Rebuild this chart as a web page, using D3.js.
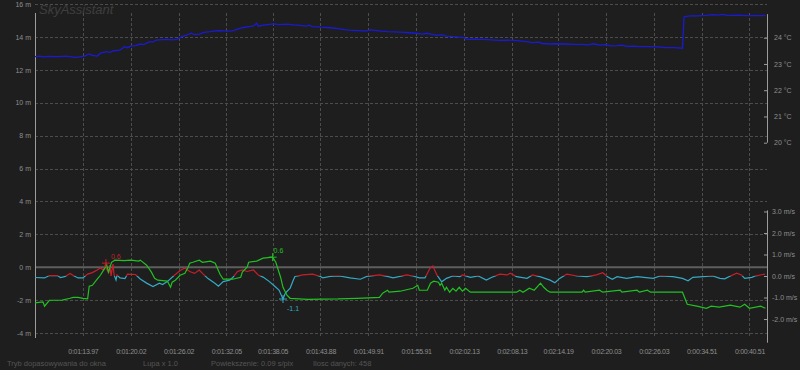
<!DOCTYPE html>
<html>
<head>
<meta charset="utf-8">
<script src="https://cdn.jsdelivr.net/npm/d3@7"></script>
<style>
  body { margin: 0; background: #1e1e1e; }
  svg { display: block; font-family: "Liberation Sans", Arial, sans-serif; }
  .lbl { fill: #8e8e8e; font-size: 7px; }
  .timeLbl { fill: #8e8e8e; font-size: 7px; letter-spacing: -0.3px; }
  .grid { stroke: #4c4c4c; stroke-dasharray: 3,2; stroke-width: 1; }
  .axisLine { stroke: #9c9c9c; stroke-width: 1; }
  .footer { fill: #555555; font-size: 7.5px; }
</style>
</head>
<body>
<div id="chart"></div>
<script>
var svgWidth = 800;
var svgHeight = 370;

// sample index where each time label sits, and the labels
var timeTicks = [30, 60, 90, 120, 149, 179, 209, 239, 269, 299, 328, 358, 388, 418, 448];
var timeLabels = ["0:01:13.97", "0:01:20.02", "0:01:26.02", "0:01:32.05", "0:01:38.05",
  "0:01:43.88", "0:01:49.91", "0:01:55.91", "0:02:02.13", "0:02:08.13", "0:02:14.19",
  "0:02:20.03", "0:02:26.03", "0:00:34.51", "0:00:40.51"];
var altTicks = [-4, -2, 0, 2, 4, 6, 8, 10, 12, 14, 16];
var tempTicks = [20, 21, 22, 23, 24];
var speedTicks = [-2, -1, 0, 1, 2, 3];
var footerTexts = ["Tryb dopasowywania do okna", "Lupa x 1.0", "Powiekszenie: 0.09 s/pix", "Ilosc danych: 458"];

// temperature, [sample, °C]
var temperature = [
  [0,23.28],[3,23.30],[5,23.27],[9,23.29],[14,23.28],[20,23.30],[25,23.25],[28,23.27],[31,23.30],
  [34,23.38],[36,23.33],[39,23.30],[41,23.41],[45,23.47],[47,23.44],[49,23.50],[53,23.53],[55,23.60],
  [56,23.66],[58,23.62],[60,23.68],[63,23.70],[66,23.76],[68,23.74],[72,23.85],[74,23.83],[76,23.91],
  [80,23.93],[83,23.94],[86,23.92],[89,23.94],[92,24.04],[95,24.10],[98,24.17],[100,24.12],[103,24.14],
  [106,24.20],[110,24.23],[113,24.26],[116,24.27],[120,24.25],[124,24.26],[127,24.33],[130,24.38],
  [134,24.42],[137,24.45],[139,24.55],[140,24.44],[143,24.48],[147,24.51],[150,24.53],[153,24.50],
  [158,24.52],[162,24.49],[166,24.47],[170,24.44],[172,24.48],[174,24.42],[179,24.40],[183,24.39],
  [187,24.37],[190,24.35],[194,24.31],[197,24.29],[202,24.27],[205,24.26],[208,24.26],[210,24.30],
  [212,24.29],[217,24.25],[221,24.23],[225,24.22],[229,24.21],[235,24.19],[239,24.17],[243,24.14],
  [246,24.17],[249,24.13],[252,24.09],[255,24.12],[258,24.06],[262,24.04],[266,24.02],[269,24.00],
  [271,23.94],[276,23.95],[281,23.94],[286,23.92],[291,23.90],[296,23.91],[302,23.89],[307,23.86],
  [312,23.81],[316,23.83],[318,23.78],[323,23.76],[327,23.77],[333,23.76],[338,23.75],[343,23.75],
  [347,23.73],[350,23.77],[354,23.72],[358,23.74],[361,23.69],[365,23.70],[368,23.72],[371,23.67],
  [375,23.68],[380,23.66],[385,23.66],[390,23.65],[396,23.62],[401,23.62],[406,23.60],[407,24.80],
  [411,24.83],[416,24.83],[421,24.85],[425,24.88],[428,24.86],[431,24.89],[434,24.85],[437,24.85],
  [441,24.86],[446,24.84],[451,24.84],[455,24.84],[458,24.85]
];

// relative altitude, [sample, m]
var climb = [
  [0,-2.17],[5,-2.11],[6,-2.37],[9,-2.01],[17,-2.00],[22,-1.89],[24,-1.83],[27,-1.83],[30,-1.90],
  [33,-1.93],[34,-1.16],[36,-1.10],[39,-0.73],[41,-0.49],[43,-0.18],[45,0.12],[46,-0.30],[48,0.30],
  [50,0.43],[56,0.40],[60,0.43],[65,0.37],[66,0.43],[70,0.12],[73,-0.30],[75,-0.67],[77,-0.79],
  [83,-0.85],[85,-1.22],[86,-0.91],[88,-0.79],[91,-0.49],[94,-0.37],[96,0.00],[97,0.24],[99,0.30],
  [103,0.43],[105,0.30],[110,0.37],[113,0.24],[116,-0.43],[118,-0.73],[124,-0.73],[129,-0.61],
  [130,-0.30],[133,0.00],[134,0.30],[139,0.37],[143,0.55],[149,0.61],[151,0.30],[154,-0.61],
  [155.5,-1.22],[158,-1.70],[160,-1.89],[171,-1.95],[190,-1.93],[202,-1.89],[216,-1.83],[218,-1.58],
  [221,-1.40],[222,-1.52],[229,-1.46],[237,-1.28],[240,-1.10],[241,-1.40],[246,-1.40],[248,-0.97],
  [250,-0.85],[253,-0.91],[254,-1.10],[255,-0.97],[257,-1.40],[258,-1.22],[260,-1.52],[262,-1.28],
  [264,-1.46],[266,-1.22],[268,-1.46],[270,-1.28],[273,-1.52],[277,-1.52],[302,-1.52],[304,-1.40],
  [306,-1.52],[310,-1.28],[313,-1.40],[317,-0.97],[319,-1.22],[321,-1.40],[323,-1.52],[343,-1.52],
  [344,-1.40],[345,-1.52],[354,-1.40],[356,-1.52],[367,-1.40],[368,-1.52],[377.5,-1.40],[379,-1.52],
  [384,-1.40],[386,-1.52],[406,-1.52],[409,-2.25],[415,-2.37],[421,-2.50],[424,-2.37],[429,-2.43],
  [436,-2.31],[442,-2.43],[445,-2.25],[448,-2.50],[455,-2.37],[458,-2.50]
];

// vertical wind, [sample, m/s]
var wind = [
  [0,-0.07],[6,-0.09],[9,0.02],[14,0.02],[16,-0.07],[19,-0.02],[22,0.12],[24,0.02],[27,-0.09],
  [30,-0.09],[33,0.09],[36,0.16],[39,0.28],[41,0.37],[43,0.28],[44.5,0.60],[45.1,0.28],[46.4,0.19],
  [47,0.51],[47.7,0.00],[48.9,0.55],[49.6,0.05],[50.8,-0.19],[51.4,0.05],[53.3,-0.09],[56.4,-0.12],
  [58,0.09],[63,0.07],[66,-0.14],[70,-0.33],[74,-0.49],[78,-0.33],[80,-0.40],[83,-0.26],[86.5,-0.02],
  [91,0.26],[94,0.37],[97,0.21],[100,0.12],[103,0.28],[105,0.12],[108.5,-0.12],[113,-0.35],
  [115,-0.47],[118,-0.26],[122,-0.19],[124,-0.07],[127,0.21],[130,0.28],[133,0.21],[137,0.28],
  [140,0.05],[143,-0.05],[147,-0.26],[150.5,-0.49],[153,-0.65],[155.5,-1.07],[157,-0.79],[160,-0.56],
  [162,-0.19],[163,-0.02],[168,0.05],[174,0.09],[179,-0.02],[180.5,-0.09],[185,-0.02],[191,0.00],
  [197.5,-0.09],[204,-0.15],[208,-0.02],[216,0.05],[221,-0.02],[224.5,-0.09],[233,0.05],[237,0.00],
  [241,-0.09],[244.5,-0.09],[247.7,0.36],[249.5,0.47],[252,0.05],[255,-0.27],[258,-0.11],[262,0.00],
  [266.5,-0.03],[268,0.05],[273,-0.06],[278,0.00],[283,-0.19],[286.5,-0.06],[291.5,0.09],[296,0.05],
  [298,0.13],[302,-0.03],[308.5,-0.11],[312,0.05],[316.5,-0.03],[323,-0.19],[326,-0.31],[329,-0.11],
  [333.5,0.09],[340,0.00],[346,-0.03],[352,0.05],[356,0.15],[359,-0.03],[362,-0.15],[365,-0.03],
  [371,-0.11],[377.5,-0.03],[387.5,-0.11],[392,0.00],[400,-0.03],[406,-0.11],[409.5,-0.22],
  [412.5,-0.06],[419,-0.03],[425,0.00],[429.5,-0.11],[432.5,-0.13],[436,0.00],[440,0.13],[443,0.05],
  [445,-0.11],[449.5,-0.06],[451.5,0.00],[457.7,0.09]
];

var svg = d3.select("#chart")
  .append("svg")
  .attr("width", svgWidth)
  .attr("height", svgHeight);

svg.append("rect").attr("width", svgWidth).attr("height", svgHeight).attr("fill", "#1e1e1e");

// scales
var xScale = d3.scaleLinear().domain([0, 459]).range([35, 767]);
var yAlt = d3.scaleLinear().domain([-4, 16]).range([333, 4]);
var yTemp = d3.scaleLinear().domain([20, 24.9]).range([142.7, 14.1]);
var ySpeed = d3.scaleLinear().domain([-3.1, 3.05]).range([342.7, 210.4]);

var crisp = v => Math.round(v) + 0.5;

// title
svg.append("text")
  .attr("x", 39).attr("y", 14)
  .attr("font-size", "13px").attr("font-style", "italic")
  .attr("fill", "#3e3e3e")
  .text("SkyAssistant");

// grid
svg.append("g").selectAll("line")
  .data(altTicks.filter(d => d !== 0))
  .enter().append("line")
  .attr("class", "grid")
  .attr("x1", 35).attr("x2", 767)
  .attr("y1", d => crisp(yAlt(d))).attr("y2", d => crisp(yAlt(d)));

svg.append("g").selectAll("line")
  .data(timeTicks)
  .enter().append("line")
  .attr("class", "grid")
  .attr("x1", d => crisp(xScale(d))).attr("x2", d => crisp(xScale(d)))
  .attr("y1", 13).attr("y2", 338);

// zero line
svg.append("line")
  .attr("x1", 35).attr("x2", 767)
  .attr("y1", yAlt(0)).attr("y2", yAlt(0))
  .attr("stroke", "#5e5e5e").attr("stroke-width", 2);

// axes
var leftAxis = d3.axisLeft(yAlt).tickValues(altTicks).tickSize(0).tickPadding(4)
  .tickFormat(d => d + " m");
var gl = svg.append("g").attr("transform", "translate(35,0)").call(leftAxis);

var tempAxis = d3.axisRight(yTemp).tickValues(tempTicks).tickSizeInner(-3).tickSizeOuter(0).tickPadding(7)
  .tickFormat(d => d + " \u00b0C");
var gt = svg.append("g").attr("transform", "translate(767,0)").call(tempAxis);

var speedAxis = d3.axisRight(ySpeed).tickValues(speedTicks).tickSizeInner(-3).tickSizeOuter(0).tickPadding(5)
  .tickFormat(d => (d < 0 ? "-" : "") + Math.abs(d).toFixed(1) + " m/s");
var gs = svg.append("g").attr("transform", "translate(767,0)").call(speedAxis);

[gl, gt, gs].forEach(function(g) {
  g.select(".domain").remove();
  g.selectAll("text").attr("class", "lbl").attr("font-family", null).attr("font-size", null);
  g.selectAll(".tick line").attr("stroke", "#9c9c9c");
});

var bottomAxis = d3.axisBottom(xScale).tickValues(timeTicks).tickSize(0).tickPadding(16)
  .tickFormat((d, i) => timeLabels[i]);
var gb = svg.append("g").attr("transform", "translate(0,333)").call(bottomAxis);
gb.select(".domain").remove();
gb.selectAll("text").attr("class", "timeLbl").attr("font-family", null).attr("font-size", null);

// axis lines
svg.append("line").attr("class", "axisLine").attr("x1", 35.5).attr("x2", 35.5).attr("y1", 13).attr("y2", 338);
svg.append("line").attr("class", "axisLine").attr("x1", 767.5).attr("x2", 767.5)
  .attr("y1", yTemp(24.9)).attr("y2", yTemp(20));
svg.append("line").attr("class", "axisLine").attr("x1", 767.5).attr("x2", 767.5)
  .attr("y1", ySpeed(3.05)).attr("y2", ySpeed(-3.1));

// temperature line
svg.append("path")
  .datum(temperature)
  .attr("fill", "none").attr("stroke", "#1a1ad4").attr("stroke-width", 1.3)
  .attr("d", d3.line().x(d => xScale(d[0])).y(d => yTemp(d[1])));

// wind: red above zero, cyan below
var defs = svg.append("defs");
defs.append("clipPath").attr("id", "clipUp").append("rect")
  .attr("x", 35).attr("width", 732).attr("y", 200).attr("height", ySpeed(0) - 200);
defs.append("clipPath").attr("id", "clipDown").append("rect")
  .attr("x", 35).attr("width", 732).attr("y", ySpeed(0)).attr("height", 350 - ySpeed(0));

var windLine = d3.line().x(d => xScale(d[0])).y(d => ySpeed(d[1]));
svg.append("path").datum(wind)
  .attr("fill", "none").attr("stroke", "#c4202c").attr("stroke-width", 1.2)
  .attr("clip-path", "url(#clipUp)").attr("d", windLine);
svg.append("path").datum(wind)
  .attr("fill", "none").attr("stroke", "#34aac4").attr("stroke-width", 1.2)
  .attr("clip-path", "url(#clipDown)").attr("d", windLine);

// altitude line
svg.append("path")
  .datum(climb)
  .attr("fill", "none").attr("stroke", "#22c022").attr("stroke-width", 1.2)
  .attr("d", d3.line().x(d => xScale(d[0])).y(d => yAlt(d[1])));

// extreme markers
function marker(px, py, color, label, dx, dy) {
  svg.append("path")
    .attr("d", `M${px - 4},${py}H${px + 4}M${px},${py - 4}V${py + 4}`)
    .attr("stroke", color).attr("stroke-width", 1);
  svg.append("text")
    .attr("x", px + dx).attr("y", py + dy)
    .attr("font-size", "7px").attr("fill", color)
    .text(label);
}
var windMax = d3.greatest(wind, d => d[1]);
var windMin = d3.least(wind, d => d[1]);
var climbMax = d3.greatest(climb, d => d[1]);
var fmt = v => (v < 0 ? "-" : "") + Math.abs(v).toFixed(1);
marker(xScale(windMax[0]), ySpeed(windMax[1]), "#c4202c", fmt(windMax[1]), 5, -4);
marker(xScale(windMin[0]), ySpeed(windMin[1]), "#34aac4", fmt(windMin[1]), 4, 12);
marker(xScale(climbMax[0]), yAlt(climbMax[1]), "#22c022", fmt(climbMax[1]), 1, -4);

// footer
var footerX = [7, 143, 211, 313];
svg.append("g").selectAll("text")
  .data(footerTexts)
  .enter().append("text")
  .attr("class", "footer")
  .attr("x", (d, i) => footerX[i])
  .attr("y", 366)
  .text(d => d);
</script>
</body>
</html>
